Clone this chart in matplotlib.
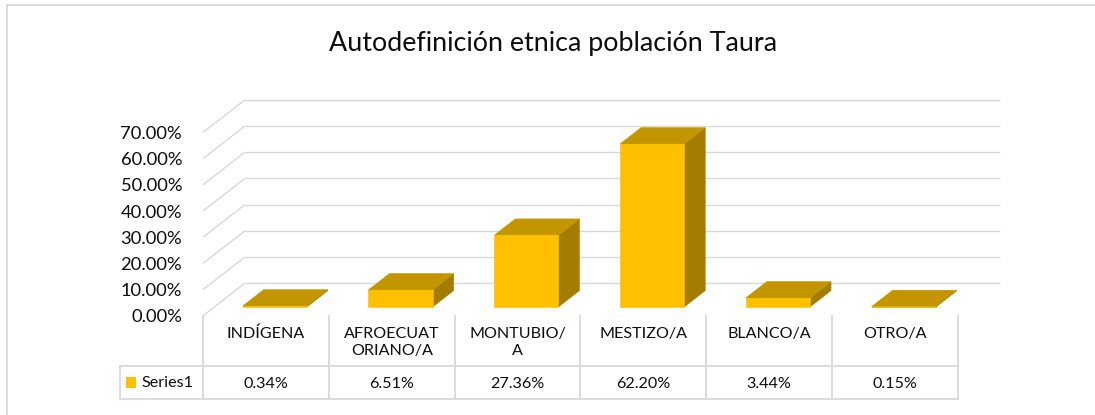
import matplotlib
matplotlib.use("Agg")
import matplotlib.pyplot as plt
from matplotlib.patches import Polygon, Rectangle
from matplotlib.lines import Line2D

plt.rcParams['font.family'] = ['Lato', 'DejaVu Sans']

# ---- data ----
title = "Autodefinición etnica población Taura"
categories = ["INDÍGENA", "AFROECUAT\nORIANO/A", "MONTUBIO/\nA", "MESTIZO/A", "BLANCO/A", "OTRO/A"]
values = [0.34, 6.51, 27.36, 62.20, 3.44, 0.15]
value_labels = ["0.34%", "6.51%", "27.36%", "62.20%", "3.44%", "0.15%"]
series_name = "Series1"
yticks = [0, 10, 20, 30, 40, 50, 60, 70]

# ---- layout (pixel geometry of the oblique 3D look) ----
W, H, DPI = 1095, 415, 100
X0, CW = 203.0, 125.8      # left of category axis, px per category
Y0, PV = 315.8, 2.62       # pixel row of 0%, px per 1%
DX, DY = 42.0 / CW, 32.7 / PV   # depth offset in data units

FRONT = "#FFC000"
TOP = "#C39500"
SIDE = "#A47C00"
GRID = "#D9D9D9"
TXT = "#0d0d0d"


def px2x(px):
    return (px - X0) / CW


def py2v(py):
    return (Y0 - py) / PV


fig = plt.figure(figsize=(W / DPI, H / DPI), dpi=DPI)
ax = fig.add_axes([0, 0, 1, 1])
ax.set_xlim(-X0 / CW, (W - X0) / CW)
ax.set_ylim(-(H - Y0) / PV, Y0 / PV)
ax.axis("off")

n = len(categories)

# side-wall and back-wall gridlines
for v in yticks:
    ax.plot([0, DX], [v, v + DY], color=GRID, lw=1.0, solid_capstyle="butt", zorder=1)
    ax.plot([DX, n + DX], [v + DY, v + DY], color=GRID, lw=1.0, solid_capstyle="butt", zorder=1)
    ax.text(px2x(182), v - 0.6, f"{v:.2f}%", ha="right", va="center",
            fontsize=13.2, color=TXT)

# 3D-looking columns
bw = 0.51
d0, d1 = 0.27, 0.77
for i, v in enumerate(values):
    c = i + 0.48
    xl, xr = c - bw / 2 + d0 * DX, c + bw / 2 + d0 * DX
    b0 = d0 * DY
    ddx, ddy = (d1 - d0) * DX, (d1 - d0) * DY
    side = Polygon([(xr, b0), (xr + ddx, b0 + ddy), (xr + ddx, b0 + ddy + v), (xr, b0 + v)],
                   closed=True, fc=SIDE, ec=SIDE, lw=0.4, zorder=3)
    front = Polygon([(xl, b0), (xr, b0), (xr, b0 + v), (xl, b0 + v)],
                    closed=True, fc=FRONT, ec="#F5C000", lw=0.4, zorder=4)
    top = Polygon([(xl, b0 + v), (xr, b0 + v), (xr + ddx, b0 + v + ddy), (xl + ddx, b0 + v + ddy)],
                  closed=True, fc=TOP, ec=TOP, lw=0.4, zorder=5)
    ax.add_patch(side)
    ax.add_patch(front)
    ax.add_patch(top)
    # bright rim at the front-top edge
    ax.plot([xl, xr], [b0 + v, b0 + v], color="#F2C200", lw=0.8, zorder=6)

# ---- data table ----
row_mid = py2v(366.0)
row_bot = py2v(398.5)
leg_left = px2x(120)
lw_t = 1.3
for k in range(n + 1):
    ax.plot([k, k], [0, row_bot], color=GRID, lw=lw_t, solid_capstyle="projecting", zorder=2)
ax.plot([leg_left, leg_left], [row_mid, row_bot], color=GRID, lw=lw_t, solid_capstyle="projecting", zorder=2)
ax.plot([leg_left, n], [row_mid, row_mid], color=GRID, lw=lw_t, solid_capstyle="projecting", zorder=2)
ax.plot([leg_left, n], [row_bot, row_bot], color=GRID, lw=lw_t, solid_capstyle="projecting", zorder=2)

for k, (cat, lab) in enumerate(zip(categories, value_labels)):
    ax.text(k + 0.5, py2v(326.5), cat, ha="center", va="top", fontsize=11.6,
            linespacing=1.32, color=TXT)
    ax.text(k + 0.5, py2v(383.5), lab, ha="center", va="center", fontsize=11.6, color=TXT)

ax.add_patch(Rectangle((px2x(126), py2v(388)), 10 / CW, 11 / PV, fc=FRONT, ec="none", zorder=3))
ax.text(px2x(141), py2v(382.5), series_name, ha="left", va="center", fontsize=11.6, color=TXT)

# title
fig.text(553 / W, 1 - 44 / H, title, ha="center", va="center", fontsize=19.4, color=TXT)

# chart border (only top and left edges are inside the picture)
fig.add_artist(Line2D([7 / W, 7 / W], [0, 1 - 5 / H], transform=fig.transFigure, color=GRID, lw=1.3))
fig.add_artist(Line2D([7 / W, 1], [1 - 5 / H, 1 - 5 / H], transform=fig.transFigure, color=GRID, lw=1.3))

fig.savefig("out.png", dpi=DPI, facecolor="white")
